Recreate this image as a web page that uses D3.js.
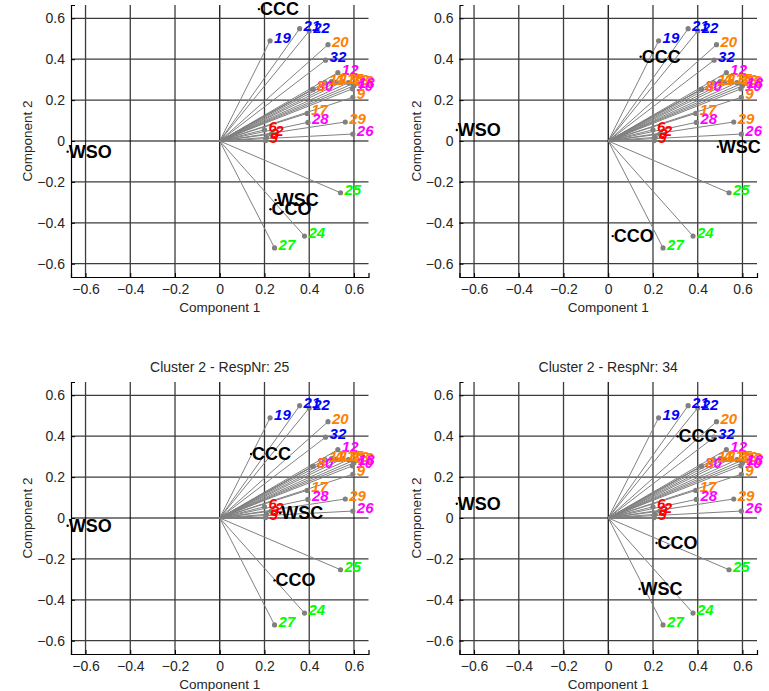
<!DOCTYPE html>
<html>
<head>
<meta charset="utf-8">
<script src="https://cdn.jsdelivr.net/npm/d3@7"></script>
<style>
  body { margin: 0; background: #fff; }
  svg { display: block; }
  text { font-family: 'Liberation Sans', Arial, sans-serif; }
</style>
</head>
<body>
<div id="chart"></div>
<script>
// Respondent loadings (same in every panel)
var respNr = [ '19', '21', '22', '20', '32', '12', '30', '8', '11', '4', '13', '15', '33', '23', '18', '10', '9',
               '17', '28', '29', '26', '6', '2', '3', '5', '25', '24', '27' ];
var comp1  = [ 0.225, 0.357, 0.40, 0.484, 0.473, 0.528, 0.415, 0.418, 0.47, 0.50, 0.52, 0.55, 0.575, 0.595, 0.60, 0.593, 0.595,
               0.391, 0.394, 0.561, 0.595, 0.20, 0.23, 0.21, 0.205, 0.54, 0.379, 0.245 ];
var comp2  = [ 0.49, 0.549, 0.538, 0.471, 0.395, 0.334, 0.253, 0.253, 0.285, 0.29, 0.287, 0.29, 0.285, 0.28, 0.27, 0.255, 0.214,
               0.135, 0.091, 0.093, 0.034, 0.055, 0.034, 0.018, 0.002, -0.253, -0.465, -0.523 ];
var group  = [ 'b', 'b', 'b', 'o', 'b', 'm', 'm', 'o', 'o', 'o', 'o', 'o', 'o', 'o', 'm', 'm', 'o',
               'o', 'm', 'o', 'm', 'r', 'r', 'r', 'r', 'g', 'g', 'g' ];

// Variable labels, position per panel
var varNames = [ 'CCC', 'WSO', 'WSC', 'CCO' ];
var varX = [ [ 0.175, -0.68, 0.25, 0.227 ],
             [ 0.145, -0.677, 0.49, 0.02 ],
             [ 0.14, -0.68, 0.27, 0.245 ],
             [ 0.31, -0.677, 0.14, 0.216 ] ];
var varY = [ [ 0.645, -0.052, -0.288, -0.334 ],
             [ 0.412, 0.054, -0.028, -0.465 ],
             [ 0.313, -0.038, 0.024, -0.305 ],
             [ 0.399, 0.07, -0.347, -0.122 ] ];

var titles = [ '', '', 'Cluster 2 - RespNr: 25', 'Cluster 2 - RespNr: 34' ];

var ticks = [ -0.6, -0.4, -0.2, 0, 0.2, 0.4, 0.6 ];
var lim = 0.665;

var colours = { b: '#0000ff', o: '#ff8000', m: '#ff00ff', r: '#ff0000', g: '#00ff00' };

var panels = [ { left: 71,    top: 5 },
               { left: 459.5, top: 5 },
               { left: 71,    top: 382 },
               { left: 459.5, top: 382 } ];
var width  = 297.5;
var height = 272;

var svg = d3.select ('#chart').append ('svg')
            .attr ('width', 769)
            .attr ('height', 691);

var fmt = function (d) { return d == 0 ? '0' : d3.format ('.1f')(d); };

panels.forEach (function (p, k)
{
    var g = svg.append ('g')
               .attr ('transform', 'translate(' + p.left + ',' + p.top + ')');

    var xScale = d3.scaleLinear ().domain ([ -lim, lim ]).range ([ 0, width ]);
    var yScale = d3.scaleLinear ().domain ([ -lim, lim ]).range ([ height, 0 ]);

    // grid
    g.selectAll ('.vgrid').data (ticks).enter ().append ('line')
     .attr ('x1', function (d) { return xScale(d); })
     .attr ('x2', function (d) { return xScale(d); })
     .attr ('y1', 0).attr ('y2', height)
     .attr ('stroke', function (d) { return d == 0 ? '#000' : '#3c3c3c'; })
     .attr ('stroke-width', function (d) { return d == 0 ? 1.2 : 1.3; });

    g.selectAll ('.hgrid').data (ticks).enter ().append ('line')
     .attr ('y1', function (d) { return yScale(d); })
     .attr ('y2', function (d) { return yScale(d); })
     .attr ('x1', 0).attr ('x2', width)
     .attr ('stroke', function (d) { return d == 0 ? '#000' : '#3c3c3c'; })
     .attr ('stroke-width', function (d) { return d == 0 ? 1.2 : 1.3; });

    // axes
    var xAxis = d3.axisBottom (xScale).tickValues (ticks).tickFormat (fmt).tickSize (-4).tickPadding (7);
    var yAxis = d3.axisLeft (yScale).tickValues (ticks).tickFormat (fmt).tickSize (-4).tickPadding (6);

    var xa = g.append ('g').attr ('transform', 'translate(0,' + height + ')').call (xAxis);
    var ya = g.append ('g').call (yAxis);
    [ xa, ya ].forEach (function (a)
    {
        a.select ('.domain').attr ('stroke', '#000').attr ('stroke-width', 1.2);
        a.selectAll ('.tick line').attr ('stroke', '#000');
        a.selectAll ('text').attr ('font-size', '14px').attr ('fill', '#262626')
         .attr ('font-family', "'Liberation Sans', Arial, sans-serif");
    });

    g.append ('text')
     .attr ('x', width / 2).attr ('y', height + 35)
     .attr ('text-anchor', 'middle')
     .attr ('font-size', '13.5px').attr ('fill', '#262626')
     .text ('Component 1');

    g.append ('text')
     .attr ('transform', 'translate(' + (-39) + ',' + (height / 2) + ') rotate(-90)')
     .attr ('text-anchor', 'middle')
     .attr ('font-size', '13.5px').attr ('fill', '#262626')
     .text ('Component 2');

    if (titles[k])
    {
        g.append ('text')
         .attr ('x', width / 2).attr ('y', -10)
         .attr ('text-anchor', 'middle')
         .attr ('font-size', '14px').attr ('fill', '#262626')
         .text (titles[k]);
    }

    // lines from origin
    g.selectAll ('.ray').data (respNr).enter ().append ('line')
     .attr ('x1', xScale(0)).attr ('y1', yScale(0))
     .attr ('x2', function (d, i) { return xScale(comp1[i]); })
     .attr ('y2', function (d, i) { return yScale(comp2[i]); })
     .attr ('stroke', '#808080').attr ('stroke-width', 1);

    g.selectAll ('.dot').data (respNr).enter ().append ('circle')
     .attr ('cx', function (d, i) { return xScale(comp1[i]); })
     .attr ('cy', function (d, i) { return yScale(comp2[i]); })
     .attr ('r', 2.6)
     .attr ('fill', '#808080');

    g.selectAll ('.lbl').data (respNr).enter ().append ('text')
     .attr ('x', function (d, i) { return xScale(comp1[i]) + 4; })
     .attr ('y', function (d, i) { return yScale(comp2[i]) - 3.5; })
     .attr ('dominant-baseline', 'central')
     .attr ('font-size', '15px')
     .attr ('font-weight', 'bold')
     .attr ('font-style', 'italic')
     .attr ('fill', function (d, i) { return colours[group[i]]; })
     .text (function (d) { return d; });

    // variable labels
    varNames.forEach (function (name, j)
    {
        var vx = xScale(varX[k][j]), vy = yScale(varY[k][j]);
        g.append ('circle').attr ('cx', vx).attr ('cy', vy).attr ('r', 1.2).attr ('fill', '#000');
        g.append ('text')
         .attr ('x', vx + 1).attr ('y', vy)
         .attr ('dominant-baseline', 'central')
         .attr ('font-size', '18px')
         .attr ('font-weight', 'bold')
         .attr ('fill', '#000')
         .text (name);
    });
});
</script>
</body>
</html>
